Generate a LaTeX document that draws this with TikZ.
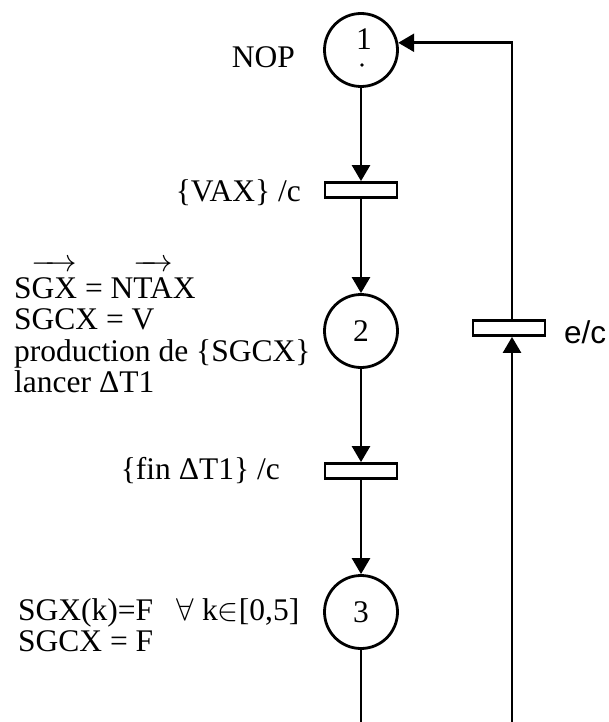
\RequirePackage{fix-cm}
\documentclass[tikz,border=0pt]{standalone}
\usepackage{fontspec}
\setmainfont{Liberation Serif}
\newfontfamily\sansf{Liberation Sans}
\usetikzlibrary{arrows.meta}
\newcommand\vecover[1]{\ensuremath{\overrightarrow{\raisebox{0pt}[1.3\height]{#1}}}}
\begin{document}
\begin{tikzpicture}[x=1pt,y=-1pt,
  every node/.style={font=\fontsize{31.5}{31.5}\selectfont},
  place/.style={circle,draw,line width=2.8pt,minimum size=73pt,inner sep=0pt},
  trans/.style={rectangle,draw,line width=2.8pt,minimum width=72pt,minimum height=15pt,inner sep=0pt},
  arc/.style={line width=2.6pt,-{Triangle[length=16pt,width=18pt]}},
  plain/.style={line width=2.6pt},
  lbl/.style={anchor=base west,inner sep=0pt},
  rlbl/.style={anchor=base east,inner sep=0pt}]
\useasboundingbox (0,0) rectangle (609,722);
% places and transitions
\node[place] (p1) at (361,50) {};
\node[inner sep=0pt,anchor=base] (n1) at (364,50) {1};
\fill (362,65) circle (1.9pt);
\node[trans] (t1) at (361,190) {};
\node[place] (p2) at (361,331) {2};
\node[trans] (t2) at (361,471) {};
\node[place] (p3) at (361,612) {3};
\node[trans] (t3) at (509,328) {};
\coordinate (b1) at (361,722);
\coordinate (b2) at (512,722);
% connectors
\draw[arc] (p1.south) -- (p1.south |- t1.north);
\draw[arc] (p1.south |- t1.south) -- (p2.north);
\draw[arc] (p2.south) -- (p2.south |- t2.north);
\draw[arc] (p2.south |- t2.south) -- (p3.north);
\draw[plain] (p3.south) -- (b1);
\draw[arc] (b2) -- (b2 |- t3.south);
\draw[arc] (b2 |- t3.north) |- (p1.11);
% labels
\node[rlbl] (lnop) at (295,68) {NOP};
\node[rlbl] (lt1) at (301,201) {\{VAX\} /c};
\node[lbl] (l21) at (14,298) {S\vecover{GX} = N\vecover{TA}X};
\node[lbl] (l22) at (14,329.5) {SGCX = V};
\node[lbl] (l23) at (14,361) {production de \{SGCX\}};
\node[lbl] (l24) at (14,392.5) {lancer ΔT1};
\node[rlbl] (lt2) at (280,479) {\{fin ΔT1\} /c};
\node[lbl] (l31) at (18,620) {SGX(k)=F\hspace{0.75em}$\forall$ k$\in$[0,5]};
\node[lbl] (l32) at (18,651) {SGCX = F};
\node[lbl,font=\sansf\fontsize{31.5}{31.5}\selectfont] (lec) at (564,343) {e/c};
\end{tikzpicture}
\end{document}
